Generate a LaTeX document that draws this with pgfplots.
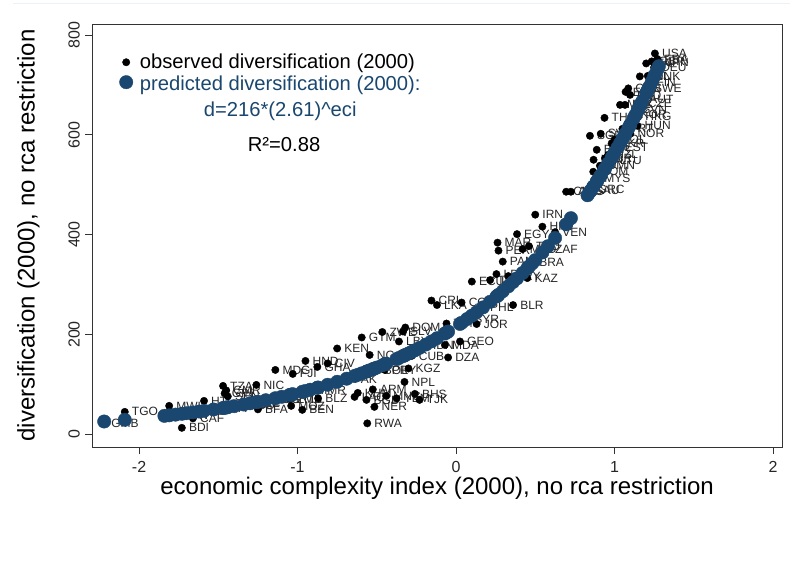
\documentclass[border=0pt]{standalone}
\usepackage{fontspec}
\setmainfont{Liberation Sans}
\usepackage{pgfplots}
\pgfplotsset{compat=1.18}
\usepackage{pgfplotstable}

\definecolor{statanavy}{HTML}{1A476F}

% eci, observed diversification, fitted value 216*2.61^eci, country code
\pgfplotstableread{
x y yhat lab
-2.22 22 25.7 GMB
-2.09 45 29.1 TGO
-1.84 40 37.0 ETH
-1.81 57 38.0 MWI
-1.77 38 39.5 SDN
-1.73 13 41.1 BDI
-1.70 45 42.3 GNB
-1.66 32 43.9 CAF
-1.62 50 45.7 MLI
-1.59 67 47.0 HTI
-1.53 52 49.8 UGA
-1.47 97 52.7 TZA
-1.46 82 53.2 GIN
-1.45 88 53.7 CMR
-1.44 76 54.3 SEN
-1.40 60 56.4 AGO
-1.34 58 59.7 LSO
-1.30 62 62.1 SLE
-1.26 99 64.5 NIC
-1.25 50 65.1 BFA
-1.20 70 68.3 COG
-1.14 129 72.4 MDG
-1.10 72 75.2 MRT
-1.05 71 78.9 ZMB
-1.04 57 79.6 MOZ
-1.03 121 80.4 FJI
-0.97 49 85.2 BEN
-0.95 147 86.8 HND
-0.92 88 89.4 MMR
-0.875 135 93.3 GHA
-0.87 72 93.8 BLZ
-0.81 142 99.3 CIV
-0.75 172 105.2 KEN
-0.69 110 111.4 PAK
-0.64 75 116.9 LAO
-0.62 83 119.2 KHM
-0.595 194 122.1 GTM
-0.565 69 125.6 BGD
-0.56 22 126.2 RWA
-0.545 159 128.1 NGA
-0.525 90 130.5 ARM
-0.515 55 131.8 NER
-0.50 129 133.7 BOL
-0.465 205 138.3 ZWE
-0.45 129 140.3 PRY
-0.44 77 141.6 MNG
-0.375 72 150.7 YEM
-0.36 186 152.9 LBY
-0.335 206 156.6 SLV
-0.325 105 158.1 NPL
-0.32 214 158.9 DOM
-0.30 132 162.0 KGZ
-0.28 157 165.1 CUB
-0.26 81 168.3 BHS
-0.23 69 173.2 TJK
-0.19 178 180.0 IDN
-0.155 268 186.2 CRI
-0.12 259 192.5 LKA
-0.07 179 202.0 MDA
-0.06 222 203.9 TUN
-0.05 154 205.9 DZA
0.025 186 221.2 GEO
0.035 264 223.4 COL
0.07 230 231.0 SYR
0.10 306 237.7 ECU
0.13 221 244.7 JOR
0.17 255 254.3 PHL
0.215 309 265.5 TUR
0.255 321 275.9 LBN
0.262 384 277.7 MAR
0.268 368 279.3 PER
0.295 346 286.7 PAN
0.33 317 296.5 URY
0.36 259 305.1 BLR
0.385 401 312.5 EGY
0.42 371 323.2 MKD
0.45 313 332.6 KAZ
0.46 377 335.8 TTO
0.48 345 342.3 BRA
0.50 440 349.0 IRN
0.545 416 364.3 HRV
0.58 370 376.8 ZAF
0.625 405 393.4 VEN
0.695 486 420.7 CHL
0.725 486 433.0 ARG
0.83 488 478.9 SAU
0.845 598 485.8 SGP
0.85 490 488.2 GRC
0.866 526 495.7 ROM
0.868 550 496.7 LVA
0.888 570 506.3 BGR
0.89 512 507.3 MYS
0.908 538 516.1 OMN
0.913 602 518.6 SVK
0.937 634 530.7 THA
0.94 553 532.2 ISR
0.96 560 542.5 NZL
0.982 583 554.1 UKR
0.99 548 558.4 LTU
1.00 590 563.8 POL
1.02 575 574.7 EST
1.035 660 583.0 MEX
1.05 612 591.5 PRT
1.066 660 600.6 IRL
1.07 686 602.9 ESP
1.087 693 612.8 CAN
1.098 680 619.4 NLD
1.10 602 620.5 NOR
1.12 640 632.6 KOR
1.13 650 638.7 SVN
1.145 618 647.9 HUN
1.15 636 651.1 HKG
1.16 717 657.3 BEL
1.165 662 660.4 CZE
1.175 670 666.8 AUT
1.20 743 683.0 ITA
1.205 694 686.3 SWE
1.21 718 689.6 DNK
1.22 705 696.2 FIN
1.235 747 706.3 GBR
1.25 735 716.6 DEU
1.255 763 720.0 USA
1.27 752 730.5 FRA
1.28 745 737.5 JPN
}\divdata

\begin{document}
\begin{tikzpicture}[x=1pt,y=1pt]
\useasboundingbox (-92.3,-127) rectangle (697.7,447);
\fill[white] (-92.3,-127) rectangle (697.7,447);
% faint outline of the graph region along the top
\draw[line width=0.8pt, color={rgb,255:red,236;green,242;blue,244}] (-79,444) -- (697.7,444);
\begin{axis}[
  at={(0,0)}, anchor=south west,
  scale only axis, width=689.7pt, height=423pt,
  xmin=-2.295, xmax=2.057, ymin=-25.4, ymax=822,
  axis line style={black!80, line width=0.9pt},
  tick pos=left, tick align=outside, major tick length=7pt,
  tick style={black!80, line width=0.9pt},
  xtick={-2,-1,0,1,2}, xticklabels={-2,-1,0,1,2},
  ytick={0,200,400,600,800}, yticklabels={0,200,400,600,800},
  tick label style={font=\fontsize{16}{16}\selectfont, text=black!85},
  xticklabel shift=4pt, yticklabel shift=2pt,
  yticklabel style={rotate=90, anchor=south},
  xlabel={economic complexity index (2000), no rca restriction},
  ylabel={diversification (2000), no rca restriction},
  label style={font=\fontsize{24}{24}\selectfont, text=black},
  xlabel style={at={(axis description cs:0.5,-0.0969)}, anchor=center},
  ylabel style={at={(axis description cs:-0.0928,0.5)}, anchor=center},
  legend cell align=left,
  legend style={at={(axis description cs:0,1)}, anchor=north west,
    xshift=27pt, yshift=-29pt, draw=none, fill=none,
    font=\fontsize{20.2}{26}\selectfont, inner sep=0pt,
    nodes={inner sep=1pt}, row sep=0pt,
    /tikz/every odd column/.append style={column sep=6pt}},
]
\addplot[only marks, mark=*, mark size=3.7pt, color=black,
  nodes near coords, point meta=explicit symbolic,
  every node near coord/.append style={anchor=west, inner sep=0pt,
    xshift=7pt, font=\fontsize{12}{12}\selectfont, text=black!85}]
  table[x=x, y=y, meta=lab] {\divdata};
\addlegendentry{observed diversification (2000)}
\addplot[only marks, mark=*, mark size=6.7pt, color=statanavy]
  table[x=x, y=yhat] {\divdata};
\addlegendentry{\textcolor{statanavy}{\begin{tabular}[t]{@{}c@{}}predicted diversification (2000):\\ d=216*(2.61)\^{}eci\end{tabular}}}
\node[font=\fontsize{20.2}{24}\selectfont, text=black] at (axis description cs:0.278,0.714) {R²=0.88};
\end{axis}
\end{tikzpicture}
\end{document}
